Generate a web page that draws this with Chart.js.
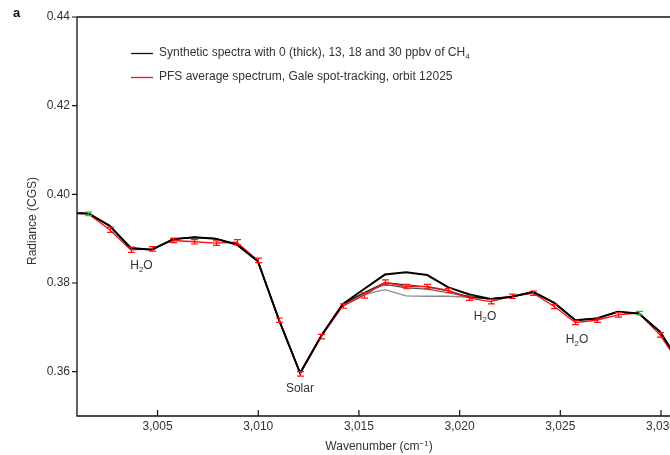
<!DOCTYPE html>
<html>
<head>
<meta charset="utf-8">
<script src="https://cdn.jsdelivr.net/npm/chart.js@4"></script>
<style>
  html, body { margin: 0; padding: 0; background: #fff; overflow: hidden; }
  #wrap { width: 670px; height: 455px; overflow: hidden; }
</style>
</head>
<body>
<div id="wrap"><canvas id="chart" width="720" height="455"></canvas></div>
<script>
// wavenumber grid (cm-1)
const wavenumbers = [3000.52, 3001.57, 3002.62, 3003.67, 3004.72, 3005.78, 3006.83, 3007.88, 3008.93, 3009.98,
  3011.03, 3012.08, 3013.13, 3014.19, 3015.24, 3016.29, 3017.34, 3018.39, 3019.44, 3020.49,
  3021.54, 3022.60, 3023.65, 3024.70, 3025.75, 3026.80, 3027.85, 3028.90, 3029.95, 3031.00];

// PFS average spectrum and its error
const pfs = [0.3958, 0.3956, 0.3920, 0.3875, 0.3877, 0.3896, 0.3893, 0.3890, 0.3892, 0.3851,
  0.3716, 0.3595, 0.3679, 0.3748, 0.3772, 0.3801, 0.3792, 0.3792, 0.3783, 0.3766,
  0.3758, 0.3770, 0.3777, 0.3747, 0.3711, 0.3716, 0.3728, 0.3732, 0.3683, 0.3612];
const pfsErr = [0.0005, 0.0004, 0.0006, 0.0006, 0.0005, 0.0005, 0.0005, 0.0005, 0.0006, 0.0005,
  0.0005, 0.0005, 0.0005, 0.0005, 0.0006, 0.0006, 0.0005, 0.0005, 0.0005, 0.0005,
  0.0005, 0.0005, 0.0005, 0.0005, 0.0005, 0.0005, 0.0005, 0.0004, 0.0005, 0.0005];
const greenIdx = [1, 27];

// synthetic spectra, 0 / 13 / 18 / 30 ppbv CH4
const synth0 = [0.3958, 0.3957, 0.3929, 0.3879, 0.3875, 0.3899, 0.3903, 0.3900, 0.3887, 0.3849,
  0.3717, 0.3597, 0.3681, 0.3752, 0.3786, 0.3819, 0.3824, 0.3818, 0.3790, 0.3774,
  0.3764, 0.3769, 0.3780, 0.3755, 0.3716, 0.3720, 0.3735, 0.3731, 0.3690, 0.3615];
const synth13 = [0.3958, 0.3957, 0.3929, 0.3879, 0.3875, 0.3899, 0.3903, 0.3900, 0.3887, 0.3849,
  0.3717, 0.3597, 0.3681, 0.3752, 0.3778, 0.3801, 0.3796, 0.3791, 0.3782, 0.3769,
  0.3764, 0.3769, 0.3780, 0.3755, 0.3716, 0.3720, 0.3735, 0.3731, 0.3690, 0.3615];
const synth18 = [0.3958, 0.3957, 0.3929, 0.3879, 0.3875, 0.3899, 0.3903, 0.3900, 0.3887, 0.3849,
  0.3717, 0.3597, 0.3681, 0.3752, 0.3777, 0.3797, 0.3789, 0.3786, 0.3778, 0.3768,
  0.3764, 0.3769, 0.3780, 0.3755, 0.3716, 0.3720, 0.3735, 0.3731, 0.3690, 0.3615];
const synth30 = [0.3958, 0.3957, 0.3929, 0.3879, 0.3875, 0.3899, 0.3903, 0.3900, 0.3887, 0.3849,
  0.3717, 0.3597, 0.3681, 0.3751, 0.3774, 0.3785, 0.3771, 0.3770, 0.3770, 0.3768,
  0.3764, 0.3769, 0.3780, 0.3755, 0.3716, 0.3720, 0.3735, 0.3731, 0.3690, 0.3615];

const xTicks = [3005, 3010, 3015, 3020, 3025, 3030];
const yTicks = [0.36, 0.38, 0.40, 0.42, 0.44];

// text labels in the plot: [parts, wavenumber, radiance]
const notes = [
  [[['H', 0], ['2', 1], ['O', 0]], 3004.2, 0.3839],
  [[['Solar', 0]], 3012.07, 0.3561],
  [[['H', 0], ['2', 1], ['O', 0]], 3021.26, 0.3724],
  [[['H', 0], ['2', 1], ['O', 0]], 3025.83, 0.3672]
];

const FONT = '"Liberation Sans", Arial, Helvetica, sans-serif';
const TEXT = '#333';
Chart.defaults.font.family = FONT;

function toXY(arr) {
  return wavenumbers.map((w, i) => ({ x: w, y: arr[i] }));
}

// draw text made of normal / subscript (1) / superscript (2) parts
function drawParts(ctx, parts, x, y, size, align) {
  const small = Math.round(size * 0.7);
  let total = 0;
  parts.forEach(p => {
    ctx.font = (p[1] ? small : size) + 'px ' + FONT;
    total += ctx.measureText(p[0]).width;
  });
  let cx = align === 'center' ? x - total / 2 : x;
  ctx.textAlign = 'left';
  ctx.textBaseline = 'middle';
  parts.forEach(p => {
    ctx.font = (p[1] ? small : size) + 'px ' + FONT;
    const dy = p[1] === 1 ? size * 0.3 : p[1] === 2 ? -size * 0.3 : 0;
    ctx.fillText(p[0], cx, y + dy);
    cx += ctx.measureText(p[0]).width;
  });
}

const decor = {
  id: 'decor',
  afterDatasetsDraw(chart) {
    const { ctx, chartArea: a, scales: { x, y } } = chart;

    // error bars
    ctx.save();
    ctx.beginPath();
    ctx.rect(a.left, a.top, a.right - a.left, a.bottom - a.top);
    ctx.clip();
    ctx.lineWidth = 1.2;
    wavenumbers.forEach((w, i) => {
      const px = Math.round(x.getPixelForValue(w)) + 0.5;
      const lo = y.getPixelForValue(pfs[i] - pfsErr[i]);
      const hi = y.getPixelForValue(pfs[i] + pfsErr[i]);
      ctx.strokeStyle = greenIdx.includes(i) ? '#2fbf2f' : '#ff1010';
      ctx.beginPath();
      ctx.moveTo(px, lo); ctx.lineTo(px, hi);
      ctx.moveTo(px - 3.5, lo); ctx.lineTo(px + 3.5, lo);
      ctx.moveTo(px - 3.5, hi); ctx.lineTo(px + 3.5, hi);
      ctx.stroke();
    });
    ctx.restore();

    // frame: left, bottom, top
    ctx.save();
    ctx.strokeStyle = '#111';
    ctx.lineWidth = 1.3;
    ctx.beginPath();
    ctx.moveTo(a.left, a.top); ctx.lineTo(a.right, a.top);
    ctx.moveTo(a.left, a.top); ctx.lineTo(a.left, a.bottom);
    ctx.lineTo(a.right, a.bottom);
    ctx.stroke();
    ctx.lineWidth = 1.2;
    ctx.beginPath();
    yTicks.forEach(v => {
      const py = y.getPixelForValue(v);
      ctx.moveTo(a.left - 5, py); ctx.lineTo(a.left, py);
    });
    xTicks.forEach(v => {
      const px = x.getPixelForValue(v);
      ctx.moveTo(px, a.bottom); ctx.lineTo(px, a.bottom - 6);
    });
    ctx.stroke();
    ctx.restore();

    // labels in the plot
    ctx.save();
    ctx.fillStyle = TEXT;
    notes.forEach(n => {
      drawParts(ctx, n[0], x.getPixelForValue(n[1]), y.getPixelForValue(n[2]), 12, 'center');
    });

    // legend
    ctx.lineWidth = 1.3;
    ctx.strokeStyle = '#111';
    ctx.beginPath(); ctx.moveTo(131, 53.5); ctx.lineTo(153, 53.5); ctx.stroke();
    ctx.strokeStyle = '#ff1010';
    ctx.beginPath(); ctx.moveTo(131, 77.5); ctx.lineTo(153, 77.5); ctx.stroke();
    drawParts(ctx, [['Synthetic spectra with 0 (thick), 13, 18 and 30 ppbv of CH', 0], ['4', 1]], 159, 53, 12, 'left');
    drawParts(ctx, [['PFS average spectrum, Gale spot-tracking, orbit 12025', 0]], 159, 77, 12, 'left');

    // axis titles
    drawParts(ctx, [['Wavenumber (cm', 0], ['\u22121', 2], [')', 0]], 379, 447, 12, 'center');
    ctx.translate(33, 221);
    ctx.rotate(-Math.PI / 2);
    drawParts(ctx, [['Radiance (CGS)', 0]], 0, 0, 12, 'center');
    ctx.setTransform(1, 0, 0, 1, 0, 0);

    // panel letter
    ctx.font = 'bold 13px ' + FONT;
    ctx.fillStyle = '#111';
    ctx.textAlign = 'left';
    ctx.textBaseline = 'middle';
    ctx.fillText('a', 13, 13);
    ctx.restore();
  }
};

new Chart(document.getElementById('chart'), {
  type: 'line',
  data: {
    datasets: [
      { label: '0 ppbv', data: toXY(synth0), borderColor: '#000', borderWidth: 2, order: 1 },
      { label: 'PFS', data: toXY(pfs), borderColor: '#ff1010', borderWidth: 1.4, order: 2 },
      { label: '13 ppbv', data: toXY(synth13), borderColor: '#222', borderWidth: 1.2, order: 3 },
      { label: '18 ppbv', data: toXY(synth18), borderColor: '#555', borderWidth: 1.2, order: 4 },
      { label: '30 ppbv', data: toXY(synth30), borderColor: '#8a8a8a', borderWidth: 1.4, order: 5 }
    ]
  },
  options: {
    responsive: false,
    animation: false,
    events: [],
    elements: { point: { radius: 0 }, line: { tension: 0 } },
    layout: { padding: { top: 17, left: 0, right: 0, bottom: 0 } },
    plugins: { legend: { display: false }, tooltip: { enabled: false } },
    scales: {
      x: {
        type: 'linear',
        min: 3001.0,
        max: 3032.93,
        grid: { display: false, drawTicks: false },
        border: { display: false },
        afterBuildTicks: s => { s.ticks = xTicks.map(v => ({ value: v })); },
        afterFit: s => { s.height = 39; },
        ticks: {
          padding: 3,
          color: TEXT,
          font: { size: 12 },
          maxRotation: 0,
          autoSkip: false,
          callback: v => v.toLocaleString('en-US')
        }
      },
      y: {
        min: 0.35,
        max: 0.44,
        grid: { display: false, drawTicks: false },
        border: { display: false },
        afterBuildTicks: s => { s.ticks = yTicks.map(v => ({ value: v })); },
        afterFit: s => { s.width = 77; },
        ticks: {
          padding: 7,
          color: TEXT,
          font: { size: 12 },
          callback: v => v.toFixed(2)
        }
      }
    }
  },
  plugins: [decor]
});
</script>
</body>
</html>
